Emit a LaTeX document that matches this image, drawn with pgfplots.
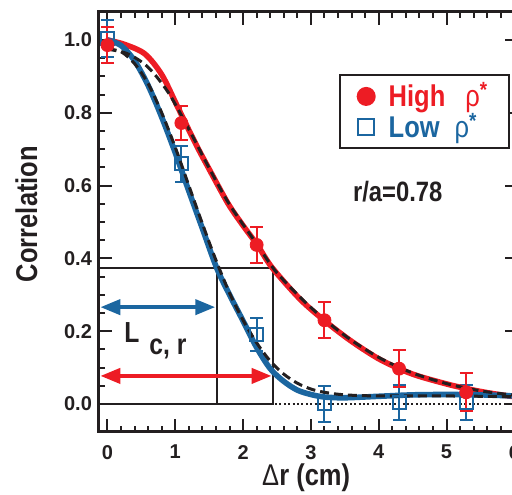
\documentclass[border=0pt]{standalone}
\usepackage{fontspec}
\setmainfont{Liberation Sans}
\newfontfamily\cond{Liberation Sans}[FakeStretch=0.85]
\usepackage{pgfplots}
\usepackage{pgfplotstable}
\pgfplotsset{compat=1.18}
\usetikzlibrary{arrows.meta,calc}
\definecolor{hired}{RGB}{237,28,36}
\definecolor{lowblue}{RGB}{27,102,160}
\definecolor{boxgray}{RGB}{35,31,32}

\pgfplotstableread{
x y e
0 0.986 0.05
1.09 0.772 0.048
2.2 0.437 0.05
3.2 0.23 0.05
4.3 0.097 0.051
5.29 0.032 0.052
}\hidata
\pgfplotstableread{
x y e
0 1.004 0.051
1.09 0.66 0.05
2.2 0.19 0.045
3.2 0.0 0.05
4.3 0.004 0.048
5.29 0.004 0.048
}\lodata

\begin{document}
\begin{tikzpicture}
\begin{axis}[name=ax, scale only axis, width=209.7pt, height=210pt,
  xmin=-0.125, xmax=6.06, ymin=-0.077, ymax=1.077,
  xtick={0,1,2,3,4,5,6}, ytick={0,0.2,0.4,0.6,0.8,1.0},
  minor x tick num=4, minor y tick num=3,
  yticklabel style={/pgf/number format/.cd, fixed, fixed zerofill, precision=1},
  xticklabel style={yshift=-3pt},
  /pgf/number format/assume math mode=true,
  ticklabel style={font=\bfseries\fontsize{10}{12}\selectfont, text=boxgray},
  axis line style={line width=1.5pt, boxgray},
  major tick length=6.5pt, minor tick length=3pt,
  every tick/.style={line width=1pt, boxgray},
  tick align=inside,
  xlabel={{\mdseries Δ}r (cm)},
  ylabel={Correlation},
  every axis x label/.style={at={(axis description cs:0.494,-0.127)}, anchor=base, font=\cond\bfseries\fontsize{15}{18}\selectfont, text=boxgray},
  every axis y label/.style={at={(axis description cs:-0.1478,0.519)}, anchor=base, rotate=90, font=\cond\bfseries\fontsize{15}{18}\selectfont, text=boxgray},
  legend style={at={(axis cs:3.41,0.907)}, anchor=north west, draw=boxgray, line width=1pt,
    font=\cond\bfseries\fontsize{15}{17}\selectfont, inner xsep=9pt, inner ysep=2pt, row sep=-2.5pt,
    /tikz/every odd column/.append style={column sep=5pt}},
  legend cell align=left,
]
\addlegendimage{only marks, mark=*, mark size=4.25pt, hired, fill=hired}
\addlegendentry{\textcolor{hired}{High\hspace{10pt}{\mdseries ρ}\raisebox{4.5pt}{\fontsize{11}{12}\selectfont *}}}
\addlegendimage{only marks, mark=square, mark size=4pt, lowblue, line width=1pt}
\addlegendentry{\textcolor{lowblue}{Low\hspace{7.5pt}{\mdseries ρ}\raisebox{4.5pt}{\fontsize{11}{12}\selectfont *}}\rule[-7.5pt]{0pt}{1pt}}

% zero line
\addplot[forget plot, boxgray, line width=1pt, dash pattern=on 1pt off 1.2pt] coordinates {(-0.125,0) (6.06,0)};

% L_c,r box and arrows
\draw[boxgray, line width=1pt] (axis cs:-0.125,0) rectangle (axis cs:2.44,0.374);
\draw[boxgray, line width=1pt] (axis cs:1.61,0) -- (axis cs:1.61,0.374);
\draw[lowblue, line width=2pt, {Triangle[length=10pt,width=7.5pt]}-{Triangle[length=10pt,width=7.5pt]}] (axis cs:-0.105,0.266) -- (axis cs:1.59,0.266);
\draw[hired, line width=2pt, {Triangle[length=10pt,width=7.5pt]}-{Triangle[length=10pt,width=7.5pt]}] (axis cs:-0.105,0.077) -- (axis cs:2.42,0.077);
\node[anchor=base west, font=\cond\bfseries\fontsize{14.5}{16}\selectfont, text=boxgray, inner sep=0pt] at (axis cs:0.243,0.168) {L\hspace{5pt}\raisebox{-6pt}{c, r}};
\node[anchor=base, font=\cond\bfseries\fontsize{14}{16}\selectfont, text=boxgray, inner sep=0pt] at (axis cs:4.28,0.555) {r/a=0.78};

% data
\addplot[forget plot, only marks, lowblue, mark=square, mark size=3.25pt, line width=1pt,
  error bars/.cd, y dir=both, y explicit, error mark=-, error bar style={line width=1pt, solid},
  error mark options={rotate=90, line width=1pt, mark size=3.25pt, lowblue}]
  table[x=x, y=y, y error=e] {\lodata};
\addplot[forget plot, only marks, hired, mark=*, mark size=3.25pt, fill=hired,
  error bars/.cd, y dir=both, y explicit, error mark=-, error bar style={line width=1pt, solid},
  error mark options={rotate=90, line width=1pt, mark size=3.25pt, hired}]
  table[x=x, y=y, y error=e] {\hidata};

% fitted curves
\addplot[forget plot, hired, line width=2.8pt, smooth] coordinates {
(0,1.0) (0.25,0.988) (0.55,0.962) (0.8,0.905) (1.03,0.818) (1.3,0.715) (1.5,0.645) (1.78,0.55) (2.0,0.49) (2.21,0.437) (2.43,0.374) (2.85,0.286) (3.22,0.226) (3.6,0.172) (4.03,0.121) (4.5,0.082) (5.0,0.055) (5.3,0.042) (5.6,0.031) (6.0,0.02) (6.3,0.015)};
\addplot[forget plot, lowblue, line width=2.8pt, smooth] coordinates {
(0,1.0) (0.2,0.985) (0.4,0.943) (0.6,0.875) (0.8,0.788) (1.0,0.69) (1.2,0.585) (1.4,0.482) (1.61,0.374) (1.8,0.30) (2.0,0.228) (2.2,0.155) (2.4,0.097) (2.6,0.062) (2.8,0.038) (3.0,0.026) (3.2,0.019) (3.5,0.017) (4.0,0.021) (4.5,0.025) (5.0,0.026) (5.5,0.025) (6.0,0.022) (6.3,0.02)};
\addplot[forget plot, boxgray, line width=1.5pt, dash pattern=on 4.5pt off 2.5pt, smooth] coordinates {
(0,0.975) (0.3,0.962) (0.6,0.925) (0.9,0.855) (1.2,0.755) (1.5,0.648) (1.8,0.548) (2.2,0.44) (2.5,0.36) (3.0,0.265) (3.5,0.188) (4.0,0.128) (4.5,0.085) (5.0,0.056) (5.5,0.036) (6.0,0.024) (6.3,0.02)};
\addplot[forget plot, boxgray, line width=1.5pt, dash pattern=on 4.5pt off 2.5pt, smooth] coordinates {
(0,0.975) (0.2,0.968) (0.4,0.935) (0.6,0.88) (0.8,0.80) (1.0,0.705) (1.2,0.60) (1.4,0.495) (1.6,0.395) (1.8,0.305) (2.0,0.23) (2.2,0.168) (2.4,0.118) (2.6,0.082) (2.8,0.057) (3.0,0.041) (3.2,0.032) (3.5,0.025) (4.0,0.022) (5.0,0.022) (6.0,0.02) (6.3,0.02)};
\end{axis}
\pgfresetboundingbox
\path ($(ax.south west)+(-49.5pt,-31.5pt)$) rectangle ($(ax.north east)+(-3.2pt,6pt)$);
\end{tikzpicture}
\end{document}
